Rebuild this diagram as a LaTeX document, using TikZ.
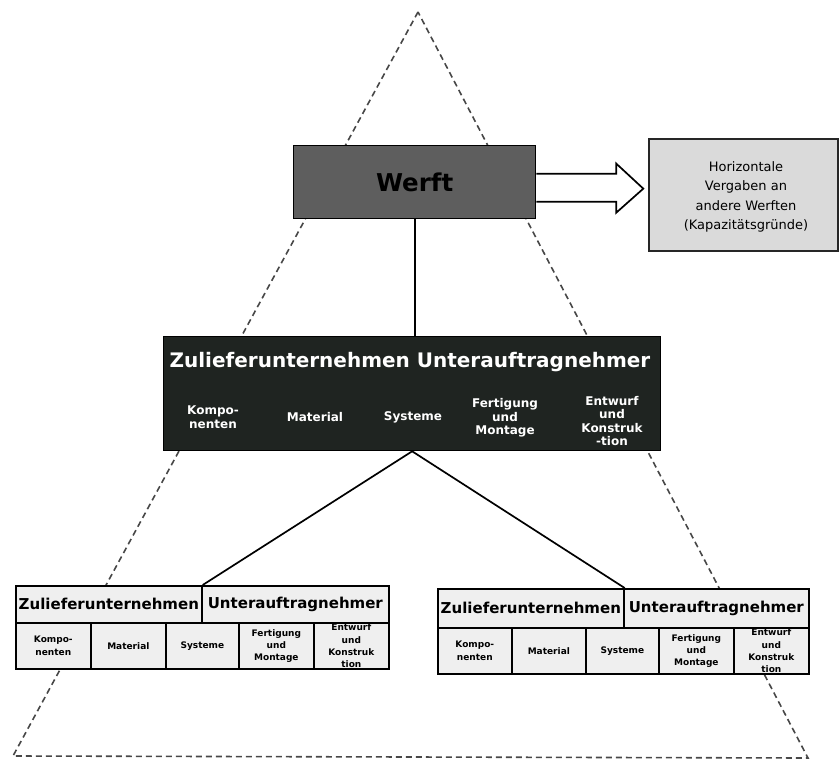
\documentclass[tikz,border=0pt]{standalone}
\usepackage{fontspec}
\setmainfont{DejaVu Sans}
\definecolor{middark}{HTML}{1F2421}
\definecolor{werftgray}{HTML}{5E5E5E}
\definecolor{horgray}{HTML}{DADADA}
\definecolor{cellgray}{HTML}{EFEFEF}
\begin{document}
\begin{tikzpicture}[x=1pt,y=-1pt,
  tri/.style={draw=black!72, line width=1.6pt, dash pattern=on 6pt off 4pt},
  conn/.style={draw=black, line width=1.7pt},
  werftbox/.style={draw=black, line width=1.3pt, fill=werftgray, inner sep=0pt,
    minimum width=242pt, minimum height=73pt, anchor=north west,
    font=\bfseries\fontsize{24.5}{30}\selectfont},
  horbox/.style={draw=black!85, line width=1.7pt, fill=horgray, inner sep=0pt,
    minimum width=189pt, minimum height=112pt, anchor=north west},
  hortext/.style={inner sep=0pt, align=center, font=\fontsize{13}{19.5}\selectfont},
  midbox/.style={draw=black, line width=1.3pt, fill=middark, inner sep=0pt,
    minimum width=497pt, minimum height=114pt, anchor=north west},
  midtitle/.style={text=white, inner sep=0pt, font=\bfseries\fontsize{20}{24}\selectfont},
  midsub/.style={text=white, inner sep=0pt, align=center, font=\bfseries\fontsize{12}{13.5}\selectfont},
  topcell/.style={draw=black, line width=1.7pt, fill=cellgray, inner sep=0pt,
    anchor=north west, font=\bfseries\fontsize{15}{18}\selectfont},
  subcell/.style={draw=black, line width=1.7pt, fill=cellgray, inner sep=0pt,
    anchor=north west, minimum height=46pt, align=center,
    font=\bfseries\fontsize{9}{12.3}\selectfont}
]
\useasboundingbox (0,0) rectangle (839,760);

% dashed pyramid
\coordinate (apex) at (418,12);
\coordinate (bl) at (13,756);
\coordinate (br) at (808,758);
\draw[tri] (apex) -- (bl) -- (br) -- cycle;

% boxes
\node[werftbox] (werft) at (293,145) {Werft};
\node[horbox] (hor) at (648,138) {};
\node[hortext] (hort) at (746,197) {Horizontale\\Vergaben an\\andere Werften\\(Kapazitätsgründe)};
\node[midbox] (mid) at (163,336) {};
\node[midtitle] (mt) at (410,362) {Zulieferunternehmen Unterauftragnehmer};
\node[midsub] (m1) at (213,417) {Kompo-\\nenten};
\node[midsub] (m2) at (315,417) {Material};
\node[midsub] (m3) at (413,417) {Systeme};
\node[midsub] (m4) at (505,418) {Fertigung\\und\\Montage};
\node[midsub] (m5) at (612,421) {Entwurf\\und\\Konstruk\\-tion};

% hollow block arrow
\filldraw[conn, fill=white, line join=miter] (werft.east) ++(0,-8.5) -- ++(80,0) -- ++(0,-10)
  -- ++(27,25) -- ++(-27,24) -- ++(0,-11) -- ++(-80,0);

% left lower table
\node[topcell, minimum width=186pt, minimum height=37pt] (lzu) at (15,585) {Zulieferunternehmen};
\node[topcell, minimum width=187pt, minimum height=37pt] (lun) at (201,585) {Unterauftragnehmer};
\node[subcell, minimum width=75pt] (l1) at (15,622) {Kompo-\\nenten};
\node[subcell, minimum width=75pt] (l2) at (90,622) {Material};
\node[subcell, minimum width=73pt] (l3) at (165,622) {Systeme};
\node[subcell, minimum width=75pt] (l4) at (238,622) {Fertigung\\und\\Montage};
\node[subcell, minimum width=75pt] (l5) at (313,622) {Entwurf\\und\\Konstruk\\tion};

% right lower table
\node[topcell, minimum width=186pt, minimum height=39pt] (rzu) at (437,588) {Zulieferunternehmen};
\node[topcell, minimum width=185pt, minimum height=39pt] (run) at (623,588) {Unterauftragnehmer};
\node[subcell, minimum width=74pt] (r1) at (437,627) {Kompo-\\nenten};
\node[subcell, minimum width=74pt] (r2) at (511,627) {Material};
\node[subcell, minimum width=73pt] (r3) at (585,627) {Systeme};
\node[subcell, minimum width=75pt] (r4) at (658,627) {Fertigung\\und\\Montage};
\node[subcell, minimum width=75pt] (r5) at (733,627) {Entwurf\\und\\Konstruk\\tion};

% connectors
\draw[conn] (werft.south) -- (werft.south |- mid.north);
\draw[conn] (mid.south) -- (lzu.north east);
\draw[conn] (mid.south) -- (rzu.north east);
\end{tikzpicture}
\end{document}
